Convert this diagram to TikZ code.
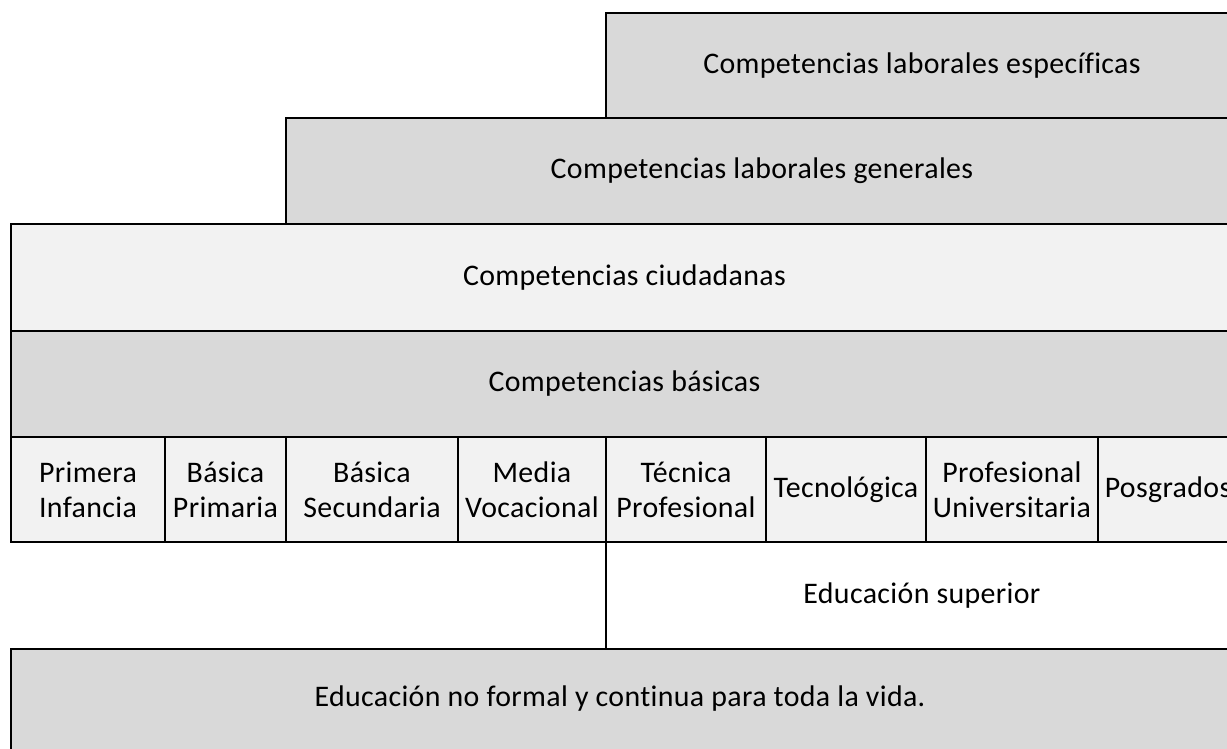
\documentclass[tikz,border=0pt]{standalone}
\usepackage{fontspec}
\setmainfont{Carlito}[Ligatures=NoCommon, LetterSpace=1.2]
\definecolor{layergray}{RGB}{217, 217, 217}
\definecolor{cellgray}{RGB}{242, 242, 242}
\usetikzlibrary{positioning}

\begin{document}
\begin{tikzpicture}[x=0.2mm, y=-0.2mm,
  layer/.style={draw=black, line width=1.1pt, anchor=north west, inner sep=0pt,
    align=center, font=\fontsize{17}{20}\selectfont},
  tallrow/.style={layer, minimum height=106*0.2mm}]
  \useasboundingbox (0,0) rectangle (1227,748);
  \clip (0,0) rectangle (1227,748);

  % Competence layers
  \node[tallrow, fill=layergray, minimum width=632*0.2mm, minimum height=105*0.2mm] (especificas) at (605,12) {Competencias laborales específicas};
  \node[tallrow, fill=layergray, minimum width=952*0.2mm] (generales) at (285,117) {Competencias laborales generales};
  \node[tallrow, fill=cellgray, minimum width=1227*0.2mm, minimum height=107*0.2mm] (ciudadanas) at (10,223) {Competencias ciudadanas};
  \node[tallrow, fill=layergray, minimum width=1227*0.2mm] (basicas) at (10,330) {Competencias básicas};

  % Education levels
  \foreach \x/\w/\name/\txt in {10/154/infancia/{Primera\\Infancia},
      164/121/primaria/{Básica\\Primaria},
      285/172/secundaria/{Básica\\Secundaria},
      457/148/media/{Media\\Vocacional},
      605/160/tecnica/{Técnica\\Profesional},
      765/160/tecnologica/{Tecnológica},
      925/172/universitaria/{Profesional\\Universitaria},
      1097/140/posgrados/{Posgrados}}
    \node[layer, fill=cellgray, minimum width=\w*0.2mm, minimum height=105*0.2mm] (\name) at (\x,436) {\txt};

  % Higher education and lifelong learning
  \node[tallrow, fill=white, minimum width=632*0.2mm, minimum height=107*0.2mm] (superior) at (605,541) {Educación superior};
  \node[tallrow, fill=layergray, minimum width=1227*0.2mm, minimum height=120*0.2mm] (noformal) at (10,648) {};
  \node[font=\fontsize{17}{20}\selectfont] (noformaltxt) at (620,699) {Educación no formal y continua para toda la vida.};
\end{tikzpicture}
\end{document}
